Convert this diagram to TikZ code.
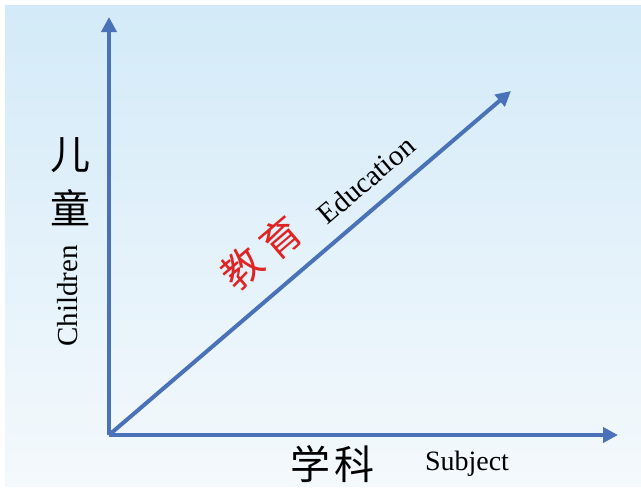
\documentclass[tikz,border=0pt]{standalone}
\usepackage{fontspec}
\setmainfont{Liberation Serif}
\newfontfamily\cjk{Noto Sans CJK SC}
\usetikzlibrary{arrows.meta}
\definecolor{axisblue}{HTML}{4A72B8}
\definecolor{bgtop}{HTML}{D3EAF8}
\definecolor{bgbot}{HTML}{F4F9FC}
\definecolor{edured}{HTML}{E02424}
\tikzset{
  axis/.style={draw=axisblue, line width=4pt, -{Triangle[length=15pt,width=15pt]}},
  lat/.style={inner sep=0pt, font=\fontsize{29}{29}\selectfont},
  han/.style={inner sep=0pt, font=\cjk\fontsize{40}{40}\selectfont},
}
\begin{document}
\begin{tikzpicture}[x=1pt,y=-1pt]
\useasboundingbox (0,0) rectangle (641,490);
\fill[white] (0,0) rectangle (641,490);
\shade[top color=bgtop, bottom color=bgbot] (5,5) rectangle (641,486);
\coordinate (O) at (109,435);
\coordinate (Y) at (109,17);
\coordinate (X) at (618,435);
\coordinate (D) at (511,91);
\draw[axis] (O) -- (Y);
\draw[axis] (O) -- (X);
\draw[axis] (O) -- (D);
\node[han] (er) at (70,155) {儿};
\node[han] (tong) at (70,208) {童};
\node[lat, rotate=90] (children) at (68,296) {Children};
\node[han, text=edured, rotate=40.5] (jiao) at (242,268) {教};
\node[han, text=edured, rotate=40.5] (yu) at (281,238) {育};
\node[lat, rotate=40.5] (edu) at (366,180) {Education};
\node[han] (xue) at (310,464) {学};
\node[han] (ke) at (354,464) {科};
\node[lat, font=\fontsize{28}{28}\selectfont] (subj) at (467,464) {Subject};
\end{tikzpicture}
\end{document}
